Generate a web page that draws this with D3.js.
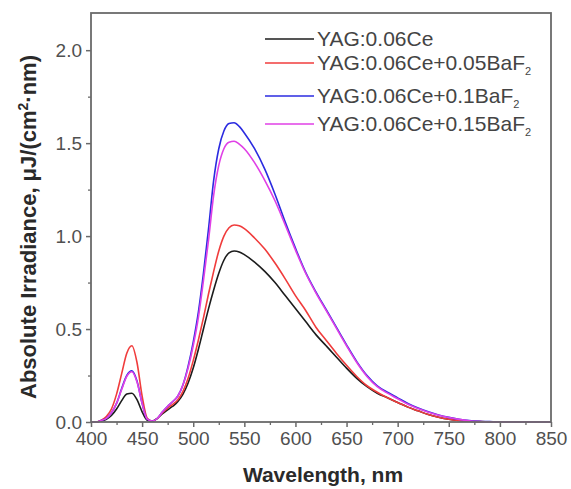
<!DOCTYPE html>
<html><head><meta charset="utf-8">
<script src="https://cdn.jsdelivr.net/npm/d3@7"></script>
<style>html,body{margin:0;padding:0;background:#fff;} svg{display:block;}</style>
</head><body>
<svg id="chart" width="571" height="489"></svg>
<script>
const wavelength = [400,405,410,415,420,425,430,435,440,445,450,455,460,465,470,475,480,485,490,495,500,505,510,515,520,525,530,535,540,545,550,560,570,580,590,600,610,620,630,640,650,660,670,680,690,700,710,720,730,740,750,760,770,780,790,800,850];
const seriesNames = ["YAG:0.06Ce","YAG:0.06Ce+0.05BaF","YAG:0.06Ce+0.1BaF","YAG:0.06Ce+0.15BaF"];
const seriesSub = ["", "2", "2", "2"];
const seriesColors = ["#1c1c1c","#f03c3c","#2b2be0","#e040e6"];
const ce0 = [0,0,0.005,0.015,0.035,0.07,0.115,0.15,0.155,0.12,0.055,0.01,0.005,0.02,0.045,0.065,0.085,0.11,0.15,0.21,0.29,0.39,0.50,0.61,0.71,0.80,0.87,0.91,0.92,0.915,0.90,0.86,0.81,0.75,0.68,0.61,0.54,0.47,0.41,0.35,0.29,0.235,0.19,0.155,0.13,0.105,0.08,0.06,0.04,0.026,0.015,0.008,0.004,0.002,0.001,0,0];
const ba005 = [0,0,0.01,0.03,0.07,0.15,0.26,0.37,0.41,0.32,0.14,0.02,0.005,0.02,0.05,0.075,0.095,0.12,0.165,0.235,0.33,0.44,0.56,0.69,0.81,0.92,1.00,1.045,1.06,1.055,1.04,0.99,0.93,0.855,0.77,0.68,0.60,0.51,0.44,0.37,0.305,0.245,0.195,0.16,0.13,0.105,0.08,0.06,0.04,0.026,0.015,0.008,0.004,0.002,0.001,0,0];
const ba01 = [0,0,0.008,0.02,0.05,0.1,0.18,0.25,0.275,0.22,0.1,0.015,0.005,0.02,0.055,0.085,0.11,0.14,0.2,0.3,0.43,0.59,0.80,1.04,1.30,1.47,1.565,1.605,1.61,1.59,1.555,1.47,1.36,1.225,1.075,0.935,0.805,0.70,0.605,0.51,0.415,0.325,0.25,0.195,0.16,0.13,0.1,0.075,0.055,0.038,0.025,0.015,0.008,0.004,0.002,0,0];
const ba015 = [0,0,0.008,0.02,0.05,0.1,0.175,0.245,0.27,0.215,0.1,0.015,0.005,0.02,0.055,0.085,0.11,0.14,0.2,0.29,0.41,0.56,0.76,0.98,1.22,1.38,1.47,1.505,1.51,1.495,1.47,1.395,1.30,1.19,1.06,0.925,0.80,0.695,0.60,0.505,0.41,0.32,0.245,0.19,0.155,0.125,0.095,0.072,0.052,0.036,0.024,0.014,0.007,0.003,0.001,0,0];
const seriesValues = [ce0, ba005, ba01, ba015];
const xTicks = [400,450,500,550,600,650,700,750,800,850];
const xMinor = [425,475,525,575,625,675,725,775,825];
const yTicks = [0,0.5,1.0,1.5,2.0];
const yMinor = [0.25,0.75,1.25,1.75];

const svg = d3.select("#chart");
const L = 91, R = 551, T = 13, B = 422;
const x = d3.scaleLinear().domain([400,850]).range([L,R]);
const y = d3.scaleLinear().domain([0,2.2]).range([B,T]);
const font = "'Liberation Sans', Arial, sans-serif";
const axisCol = "#6a6a6a";

// lines
const line = d3.line().x((d,i)=>x(wavelength[i])).y(d=>y(d)).curve(d3.curveMonotoneX);
seriesValues.forEach((vals,k)=>{
  svg.append("path").attr("d", line(vals)).attr("fill","none")
    .attr("stroke", seriesColors[k]).attr("stroke-width",1.6).attr("stroke-linejoin","round");
});

// frame
svg.append("rect").attr("x",L).attr("y",T).attr("width",R-L).attr("height",B-T)
  .attr("fill","none").attr("stroke",axisCol).attr("stroke-width",1.8);

// x axis
const xAxis = d3.axisBottom(x).tickValues(xTicks).tickFormat(d3.format("d")).tickSize(5).tickPadding(5);
const gx = svg.append("g").attr("transform",`translate(0,${B})`).call(xAxis);
gx.select(".domain").remove();
gx.selectAll("line").attr("stroke",axisCol).attr("stroke-width",1.5);
gx.selectAll("text").attr("font-family",font).attr("font-size",19).attr("fill","#505050");
const gxm = svg.append("g").attr("transform",`translate(0,${B})`)
  .call(d3.axisBottom(x).tickValues(xMinor).tickFormat("").tickSize(3));
gxm.select(".domain").remove();
gxm.selectAll("line").attr("stroke",axisCol).attr("stroke-width",1.3);

// y axis
const yAxis = d3.axisLeft(y).tickValues(yTicks).tickFormat(d3.format(".1f")).tickSize(5).tickPadding(4);
const gy = svg.append("g").attr("transform",`translate(${L},0)`).call(yAxis);
gy.select(".domain").remove();
gy.selectAll("line").attr("stroke",axisCol).attr("stroke-width",1.5);
gy.selectAll("text").attr("font-family",font).attr("font-size",19).attr("fill","#505050");
const gym = svg.append("g").attr("transform",`translate(${L},0)`)
  .call(d3.axisLeft(y).tickValues(yMinor).tickFormat("").tickSize(3));
gym.select(".domain").remove();
gym.selectAll("line").attr("stroke",axisCol).attr("stroke-width",1.3);

// axis titles
svg.append("text").attr("x",(L+R)/2+2).attr("y",482).attr("text-anchor","middle")
  .attr("font-family",font).attr("font-weight","bold").attr("font-size",21).attr("fill","#2a2a2a")
  .text("Wavelength, nm");
const yt = svg.append("text").attr("transform",`translate(36,227) rotate(-90)`)
  .attr("text-anchor","middle").attr("font-family",font).attr("font-weight","bold")
  .attr("font-size",22).attr("fill","#2a2a2a");
yt.append("tspan").text("Absolute Irradiance, μJ/(cm");
yt.append("tspan").attr("font-size",14).attr("dy",-8).text("2");
yt.append("tspan").attr("dy",8).text("·nm)");

// legend
const legY = [39, 63, 96, 124];
seriesNames.forEach((name,k)=>{
  svg.append("line").attr("x1",265).attr("x2",314).attr("y1",legY[k]).attr("y2",legY[k])
    .attr("stroke",seriesColors[k]).attr("stroke-width",1.6);
  const t = svg.append("text").attr("x",317).attr("y",legY[k]+7)
    .attr("font-family",font).attr("font-size",21).attr("fill","#444");
  t.append("tspan").text(name);
  if (seriesSub[k]) t.append("tspan").attr("font-size",11).attr("dy",5).text(seriesSub[k]);
});
</script>
</body></html>
